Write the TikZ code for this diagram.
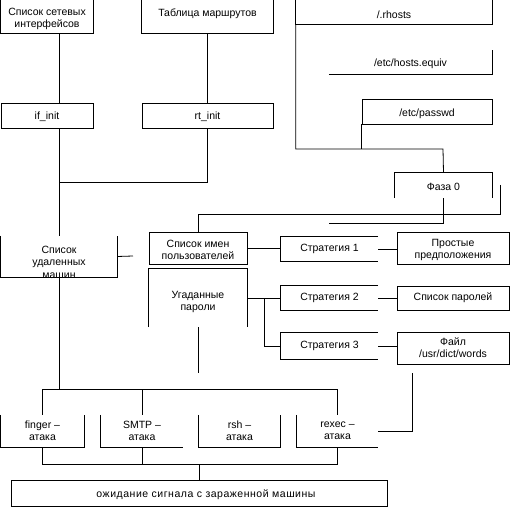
\documentclass[tikz,border=0pt]{standalone}
\usepackage{fontspec}
\setmainfont{Liberation Sans}
\usetikzlibrary{fit}
\begin{document}
\begin{tikzpicture}[x=1pt,y=-1pt,
  ln/.style={line width=0.8pt},
  bx/.style={inner sep=0pt},
  full/.style={bx,draw,line width=0.8pt},
  tx/.style={inner sep=0pt,align=center,font=\fontsize{10.5}{12}\selectfont}]
\useasboundingbox (0,0) rectangle (510,510);
% boxes
\node[bx,fit={(1,0)(93,33)}] (net) {};
\node[bx,fit={(142,0)(273,33)}] (rtab) {};
\node[full,fit={(1,103)(93,128)}] (ifi) {};
\node[full,fit={(142,103)(273,128)}] (rti) {};
\node[bx,fit={(296,0)(492,24)}] (rh) {};
\node[bx,fit={(329,50)(492,74)}] (he) {};
\node[full,fit={(362,99)(492,124)}] (pw) {};
\node[bx,fit={(395,173)(492,198)}] (ph) {};
\node[bx,fit={(1,236)(117,277)}] (rem) {};
\node[full,fit={(149,232)(247,264)}] (us) {};
\node[bx,fit={(149,269)(247,327)}] (gp) {};
\node[bx,fit={(281,237)(378,261)}] (s1) {};
\node[bx,fit={(281,286)(378,310)}] (s2) {};
\node[bx,fit={(281,333)(378,359)}] (s3) {};
\node[full,fit={(397,232)(509,264)}] (sp) {};
\node[full,fit={(397,286)(509,310)}] (pl) {};
\node[full,fit={(397,332)(509,364)}] (dw) {};
\node[bx,fit={(1,415)(84,447)}] (fa) {};
\node[bx,fit={(101,415)(183,447)}] (sa) {};
\node[bx,fit={(199,415)(280,447)}] (ra) {};
\node[bx,fit={(297,415)(378,447)}] (xa) {};
\node[full,fit={(11,480)(387,506)}] (wt) {};
% texts
\node[tx,yshift=-2pt] (netT) at (net.center) {Список сетевых\\интерфейсов};
\node[tx,yshift=2.5pt] (rtabT) at (rtab.center) {Таблица маршрутов};
\node[tx,yshift=-1.5pt] (ifiT) at (ifi.center) {if\_init};
\node[tx,yshift=-1.5pt] (rtiT) at (rti.center) {rt\_init};
\node[tx,yshift=-3pt] (rhT) at (rh.center) {/.rhosts};
\node[tx,yshift=-2pt] (heT) at (he.center) {/etc/hosts.equiv};
\node[tx,yshift=-2pt] (pwT) at (pw.center) {/etc/passwd};
\node[tx,yshift=-1.5pt] (phT) at (ph.center) {Фаза 0};
\node[tx,font=\fontsize{10.5}{12.5}\selectfont] (remT) at (59,262) {Список\\удаленных\\машин};
\node[tx,yshift=-1.5pt] (usT) at (us.center) {Список имен\\пользователей};
\node[tx] (gpT) at (198,302) {Угаданные\\пароли};
\node[tx] (s1T) at (s1.center) {Стратегия 1};
\node[tx] (s2T) at (s2.center) {Стратегия 2};
\node[tx] (s3T) at (s3.center) {Стратегия 3};
\node[tx,yshift=-2pt] (spT) at (sp.center) {Простые\\предположения};
\node[tx] (plT) at (pl.center) {Список паролей};
\node[tx] (dwT) at (dw.center) {Файл\\/usr/dict/words};
\node[tx] (faT) at (fa.center) {finger –\\атака};
\node[tx] (saT) at (sa.center) {SMTP –\\атака};
\node[tx] (raT) at (ra.center) {rsh –\\атака};
\node[tx] (xaT) at (xa.center) {rexec –\\атака};
\node[tx,yshift=-2pt,font=\fontsize{10.5}{12}\selectfont\addfontfeature{LetterSpace=5}] (wtT) at (206,493) {ожидание сигнала с зараженной машины};
% partial borders
\draw[ln] (net.north west) |- (net.south east) -- (net.north east);
\draw[ln] (rtab.north west) |- (rtab.south east) -- (rtab.north east);
\draw[ln] (rh.north west) |- (rh.south east) -- (rh.north east);
\draw[ln] (he.south west) -- (he.south east) -- (he.north east);
\draw[ln] (ph.south west) |- (ph.north east) -- (ph.south east);
\draw[ln] (rem.north west) |- (rem.south east) -- (rem.north east);
\draw[ln] (gp.south west) |- (gp.north east) -- (gp.south east);
\draw[ln] (s1.north east) -| (s1.south west) -- (s1.south east);
\draw[ln] (s2.north east) -| (s2.south west) -- (s2.south east);
\draw[ln] (s3.north east) -| (s3.south west) -- (s3.south east);
\draw[ln] (fa.north west) |- (fa.south east) -- (fa.north east);
\draw[ln] (sa.north west) |- (sa.south east);
\draw[ln] (ra.north west) |- (ra.south east) -- (ra.north east);
\draw[ln] (xa.north west) |- (xa.south east);
% coordinates
\coordinate (j1) at (59,182);
\coordinate (j2) at (59,389);
\coordinate (j3) at (199,464);
\coordinate (r1) at (133,256);
\coordinate (j4) at (443,149);
\coordinate (c1) at (329,223);
\coordinate (c2) at (500,185);
\coordinate (c3) at (500,214);
\coordinate (j5) at (264,298);
\coordinate (g1) at (198,373);
\coordinate (d1) at (412,373);
\coordinate (d2) at (378,431);
% connectors
\draw[ln] (rem.north |- net.south) -- (rem.north |- ifi.north);
\draw[ln] (rem.north |- ifi.south) -- (rem.north);
\draw[ln] (rtab.south) -- (rti.north);
\draw[ln] (rti.south) |- (j1);
\draw[ln] (rem.south) -- (j2);
\draw[ln] (fa.north) |- (xa.north |- j2) -- (xa.north);
\draw[ln] (sa.north) -- (sa.north |- j2);
\draw[ln] (fa.south) |- (xa.south |- j3) -- (xa.south);
\draw[ln] (sa.south) -- (sa.south |- j3);
\draw[ln] (wt.north) -- (j3);
\draw[ln] (rem.east) -- (r1);
\draw[ln] (rh.south west) |- (j4) -- (ph.north);
\draw[ln] (pw.south west) -- (pw.south west |- j4);
\draw[ln] (ph.south) |- (c1);
\draw[ln] (c2) -- (c3) -| (us.north);
\draw[ln] (us.east) -- (us.east -| s1.west);
\draw[ln] (s1.east) -- (s1.east -| sp.west);
\draw[ln] (gp.east) -- (s2.west);
\draw[ln] (j5) |- (s3.west);
\draw[ln] (s2.east) -- (pl.west);
\draw[ln] (s3.east) -- (s3.east -| dw.west);
\draw[ln] (gp.south) -- (g1);
\draw[ln] (d1) |- (d2);
\end{tikzpicture}
\end{document}
